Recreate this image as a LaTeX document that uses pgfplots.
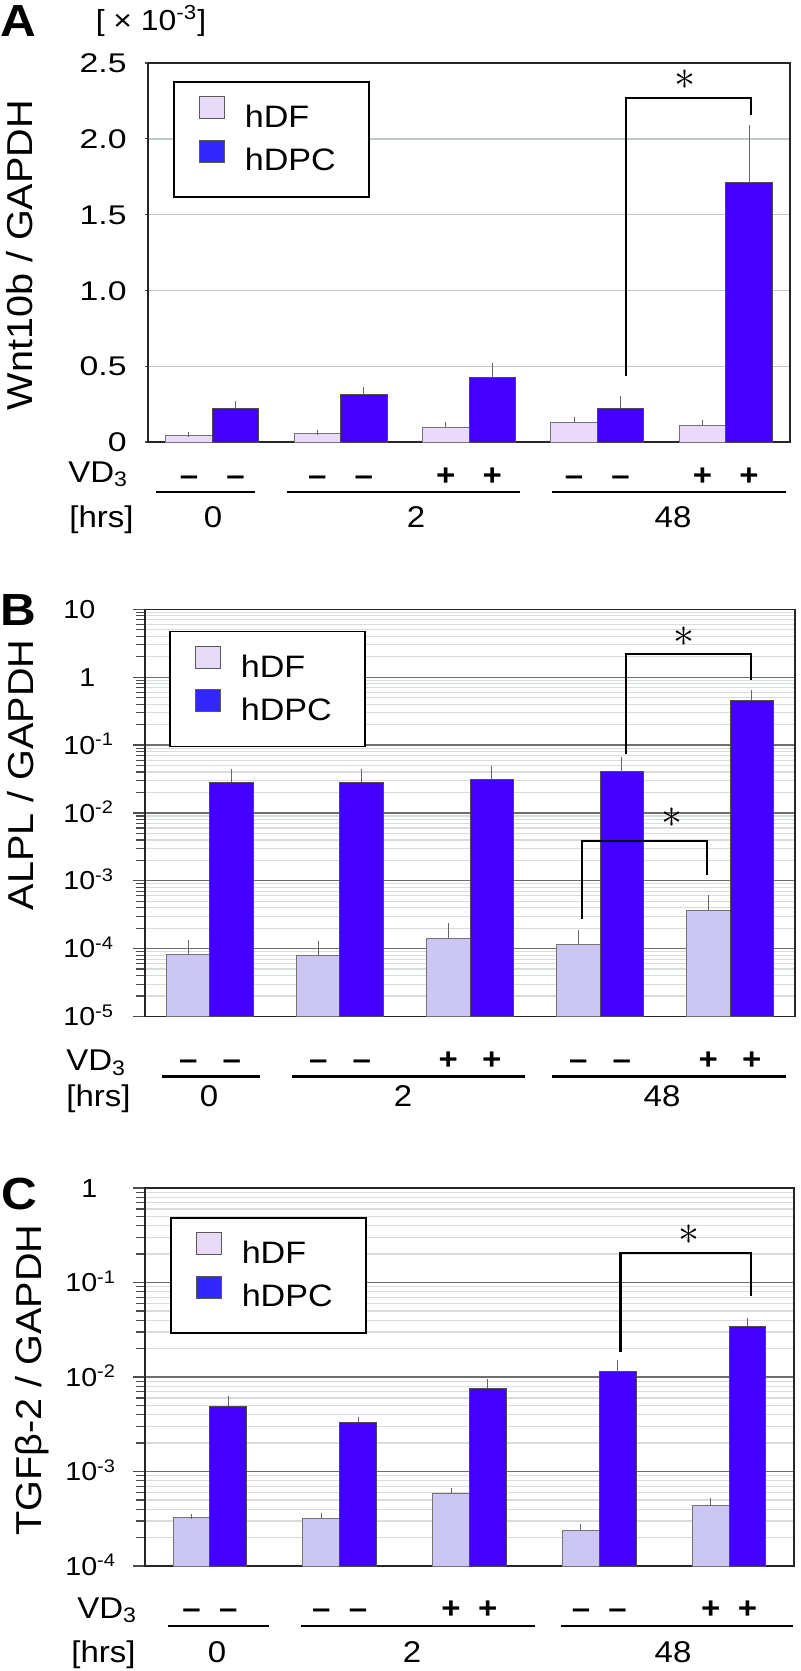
\documentclass[border=0pt]{standalone}
\usepackage{fontspec}
\setmainfont[FakeStretch=1.1]{Liberation Sans}
\newfontfamily\wideA[FakeStretch=1.25]{Liberation Sans}
\usepackage{graphicx}
\usepackage{pgfplots}
\usepackage{pgfplotstable}
\pgfplotsset{compat=1.18}

\definecolor{dfA}{RGB}{232,218,248}
\definecolor{dfB}{RGB}{204,198,242}
\definecolor{dpc}{RGB}{68,0,255}
\definecolor{legdf}{RGB}{230,218,246}
\definecolor{legdpc}{RGB}{50,40,255}
\definecolor{gridA}{RGB}{190,202,198}
\definecolor{gridmaj}{RGB}{110,110,110}
\definecolor{gridmin}{RGB}{215,220,220}

\newcommand\fs[1]{\fontsize{#1}{#1}\selectfont}
\newcommand\tl[1]{10\textsuperscript{#1}}
% sign / number below the bars: x, ymin, shift, text
\newcommand\sgn[4]{\node[sg] at ([yshift=-#3]axis cs:#1,#2) {#4};}
\newcommand\mi{\textbf{\textendash}}
\newcommand\pl{\textbf{+}}
% underline: x1, x2, ymin, shift
\newcommand\ul[4]{\draw[line width=1.4pt] ([yshift=-#4]axis cs:#1,#3) -- ([yshift=-#4]axis cs:#2,#3);}
\newcommand\sigstar[2]{\node at (axis cs:#1,#2) {\scalebox{2.1}{$\ast$}};}

\tikzset{sg/.style={anchor=base, font=\fs{15}, inner sep=0pt}}

\pgfplotsset{
  panel/.style={
    scale only axis, clip=false, ybar=0pt, log origin y=infty,
    xmin=-0.5, xmax=4.5, xtick=\empty,
    axis line style={black!85, line width=0.8pt},
    tick style={black!70, line width=0.6pt}, tick align=outside, ytick pos=left,
    ylabel style={font=\fs{18}, anchor=center},
    legend cell align=left,
    legend style={draw=black, line width=0.8pt, fill=white, font=\fs{15.5},
      inner xsep=12.5pt, inner ysep=7pt, row sep=0pt, column sep=10pt,
      nodes={inner sep=0pt, minimum height=21.75pt}},
    error bars/y dir=plus, error bars/y explicit,
    error bars/error bar style={line width=0.5pt, black!60},
    error bars/error mark options={black!60, line width=0.5pt, mark size=1.3pt},
  },
  legdf/.style={legend image code/.code={
      \draw[fill=legdf, draw=black!65, line width=0.5pt] (0pt,-0.5pt) rectangle (12.5pt,10.5pt);}},
  legdpc/.style={legend image code/.code={
      \draw[fill=legdpc, draw=black!65, line width=0.5pt] (0pt,-0.5pt) rectangle (12.5pt,10.5pt);}},
}

% Wnt10b / GAPDH (x10^-3)
\pgfplotstableread{
x y e
0 0.042 0.008
1 0.057 0.007
2 0.099 0.015
3 0.127 0.023
4 0.108 0.019
}\Adf
\pgfplotstableread{
x y e
0 0.222 0.033
1 0.312 0.035
2 0.424 0.079
3 0.222 0.062
4 1.71 0.363
}\Adpc
% ALPL / GAPDH
\pgfplotstableread{
x y e
0 8.1e-5 4.2e-5
1 7.8e-5 4.1e-5
2 1.43e-4 7.4e-5
3 1.16e-4 5.9e-5
4 3.7e-4 1.96e-4
}\Bdf
\pgfplotstableread{
x y e
0 0.0283 0.0123
1 0.0283 0.0123
2 0.0313 0.0142
3 0.041 0.0208
4 0.461 0.137
}\Bdpc
% TGFb-2 / GAPDH
\pgfplotstableread{
x y e
0 3.30e-4 0.05e-4
1 3.22e-4 1.9e-5
2 5.87e-4 4.5e-5
3 2.37e-4 2.2e-5
4 4.35e-4 5.2e-5
}\Cdf
\pgfplotstableread{
x y e
0 4.9e-3 1.0e-3
1 3.34e-3 1.9e-4
2 7.65e-3 1.35e-3
3 1.14e-2 2.8e-3
4 3.44e-2 5.4e-3
}\Cdpc

\begin{document}
\begin{tikzpicture}
\path[use as bounding box] (0pt,0pt) rectangle (400pt,-835.5pt);

% ---------------- A ----------------
\node[font=\fs{22.5}\bfseries] at (9pt,-10.5pt) {A};
\node[font=\fs{14.5}] at (75.5pt,-10.5pt) {[ × \tl{-3}]};
\begin{axis}[panel, at={(74pt,-221pt)}, anchor=south west, width=321pt, height=189.5pt,
  ymin=0, ymax=2.5, ytick={0,0.5,1,1.5,2,2.5}, yticklabels={0,0.5,1.0,1.5,2.0,2.5},
  ymajorgrids, major grid style={gridA, line width=0.7pt}, major tick length=1.5pt,
  yticklabel style={font=\wideA\fs{13.5}, anchor=base east, inner sep=0pt, yshift=-4.8pt, xshift=-9pt},
  ylabel={Wnt10b / GAPDH}, ylabel style={at={(axis description cs:-0.2,0.493)}},
  bar width=0.362,
  legend style={at={(rel axis cs:0.039,0.9525)}, anchor=north west}]
\addplot[fill=dfA, draw=black!55, line width=0.5pt, legdf] table[x=x,y=y,y error=e] {\Adf};
\addplot[fill=dpc, draw=black!70, line width=0.5pt, legdpc] table[x=x,y=y,y error=e] {\Adpc};
\legend{hDF, hDPC\hspace*{4pt}}
\draw[line width=1.15pt] (axis cs:3.223,0.435) -- (axis cs:3.223,2.27) -- (axis cs:4.196,2.27) -- (axis cs:4.196,2.157);
\sigstar{3.68}{2.39}
\node[sg, anchor=base west] at ([yshift=-20pt]axis cs:-1.123,0) {VD\textsubscript{3}};
\node[sg, anchor=base west] at ([yshift=-42.5pt]axis cs:-1.115,0) {[hrs]};
\sgn{-0.181}{0}{21.5pt}{\mi}\sgn{0.181}{0}{21.5pt}{\mi}
\sgn{0.819}{0}{21.5pt}{\mi}\sgn{1.181}{0}{21.5pt}{\mi}
\sgn{1.819}{0}{21.5pt}{\pl}\sgn{2.181}{0}{21.5pt}{\pl}
\sgn{2.819}{0}{21.5pt}{\mi}\sgn{3.181}{0}{21.5pt}{\mi}
\sgn{3.819}{0}{21.5pt}{\pl}\sgn{4.181}{0}{21.5pt}{\pl}
\ul{-0.438}{0.333}{0}{25pt}\ul{0.583}{2.397}{0}{25pt}\ul{2.646}{4.469}{0}{25pt}
\sgn{0.006}{0}{42.5pt}{0}\sgn{1.587}{0}{42.5pt}{2}\sgn{3.589}{0}{42.5pt}{48}
\end{axis}

% ---------------- B ----------------
\node[font=\fs{22.5}\bfseries] at (9pt,-305pt) {B};
\begin{axis}[panel, at={(72.5pt,-508.25pt)}, anchor=south west, width=325pt, height=203.6pt,
  ymode=log, ymin=1e-5, ymax=10, ytick={1e-5,1e-4,1e-3,1e-2,1e-1,1,10},
  yticklabels={\tl{-5},\tl{-4},\tl{-3},\tl{-2},\tl{-1},\hphantom{1}1,10},
  ymajorgrids, yminorgrids, major grid style={gridmaj, line width=0.6pt},
  minor grid style={gridmin, line width=0.6pt},
  major tick length=6pt, minor tick length=4.5pt,
  yticklabel style={font=\fs{13}, anchor=base west, inner sep=0pt, yshift=-4.6pt, xshift=-35pt},
  ylabel={ALPL / GAPDH}, ylabel style={at={(axis description cs:-0.192,0.593)}},
  bar width=0.335,
  legend style={at={(rel axis cs:0.037,0.947)}, anchor=north west}]
\addplot[fill=dfB, draw=black!55, line width=0.5pt, legdf] table[x=x,y=y,y error=e] {\Bdf};
\addplot[fill=dpc, draw=black!70, line width=0.5pt, legdpc] table[x=x,y=y,y error=e] {\Bdpc};
\legend{hDF, hDPC\hspace*{4pt}}
\draw[line width=1.15pt] (axis cs:3.198,0.073) -- (axis cs:3.198,2.17) -- (axis cs:4.16,2.17) -- (axis cs:4.16,0.91);
\sigstar{3.646}{3.9}
\draw[line width=1.15pt] (axis cs:2.86,2.75e-4) -- (axis cs:2.86,3.87e-3) -- (axis cs:3.825,3.87e-3) -- (axis cs:3.825,1.22e-3);
\sigstar{3.55}{8.4e-3}
\node[sg, anchor=base west] at ([yshift=-27pt]axis cs:-1.108,1e-5) {VD\textsubscript{3}};
\node[sg, anchor=base west] at ([yshift=-45pt]axis cs:-1.108,1e-5) {[hrs]};
\sgn{-0.1675}{1e-5}{26.5pt}{\mi}\sgn{0.1675}{1e-5}{26.5pt}{\mi}
\sgn{0.8325}{1e-5}{26.5pt}{\mi}\sgn{1.1675}{1e-5}{26.5pt}{\mi}
\sgn{1.8325}{1e-5}{26.5pt}{\pl}\sgn{2.1675}{1e-5}{26.5pt}{\pl}
\sgn{2.8325}{1e-5}{26.5pt}{\mi}\sgn{3.1675}{1e-5}{26.5pt}{\mi}
\sgn{3.8325}{1e-5}{26.5pt}{\pl}\sgn{4.1675}{1e-5}{26.5pt}{\pl}
\ul{-0.369}{0.385}{1e-5}{30pt}\ul{0.631}{2.423}{1e-5}{30pt}\ul{2.631}{4.431}{1e-5}{30pt}
\sgn{-0.008}{1e-5}{45pt}{0}\sgn{1.485}{1e-5}{45pt}{2}\sgn{3.477}{1e-5}{45pt}{48}
\end{axis}

% ---------------- C ----------------
\node[font=\fs{22.5}\bfseries] at (9.5pt,-597pt) {C};
\begin{axis}[panel, at={(72.5pt,-783pt)}, anchor=south west, width=324.5pt, height=189pt,
  ymode=log, ymin=1e-4, ymax=1, ytick={1e-4,1e-3,1e-2,1e-1,1},
  yticklabels={\tl{-4},\tl{-3},\tl{-2},\tl{-1},\hphantom{1}1},
  ymajorgrids, yminorgrids, major grid style={gridmaj, line width=0.6pt},
  minor grid style={gridmin, line width=0.6pt},
  major tick length=6pt, minor tick length=4.5pt,
  yticklabel style={font=\fs{13}, anchor=base west, inner sep=0pt, yshift=-4.6pt, xshift=-34pt},
  ylabel={TGFβ-2 / GAPDH}, ylabel style={at={(axis description cs:-0.174,0.492)}},
  bar width=0.283,
  legend style={at={(rel axis cs:0.0385,0.923)}, anchor=north west}]
\addplot[fill=dfB, draw=black!55, line width=0.5pt, legdf] table[x=x,y=y,y error=e] {\Cdf};
\addplot[fill=dpc, draw=black!70, line width=0.5pt, legdpc] table[x=x,y=y,y error=e] {\Cdpc};
\legend{hDF, hDPC\hspace*{4pt}}
\draw[line width=1.15pt] (axis cs:3.163,1.82e-2) -- (axis cs:3.163,0.207) -- (axis cs:4.169,0.207) -- (axis cs:4.169,0.072);
\sigstar{3.691}{0.318}
\node[sg, anchor=base west] at ([yshift=-26pt]axis cs:-1.024,1e-4) {VD\textsubscript{3}};
\node[sg, anchor=base west] at ([yshift=-48.3pt]axis cs:-1.07,1e-4) {[hrs]};
\sgn{-0.1415}{1e-4}{26pt}{\mi}\sgn{0.1415}{1e-4}{26pt}{\mi}
\sgn{0.8585}{1e-4}{26pt}{\mi}\sgn{1.1415}{1e-4}{26pt}{\mi}
\sgn{1.8585}{1e-4}{26pt}{\pl}\sgn{2.1415}{1e-4}{26pt}{\pl}
\sgn{2.8585}{1e-4}{26pt}{\mi}\sgn{3.1415}{1e-4}{26pt}{\mi}
\sgn{3.8585}{1e-4}{26pt}{\pl}\sgn{4.1415}{1e-4}{26pt}{\pl}
\ul{-0.323}{0.455}{1e-4}{30pt}\ul{0.702}{2.505}{1e-4}{30pt}\ul{2.705}{4.492}{1e-4}{30pt}
\sgn{0.055}{1e-4}{48.3pt}{0}\sgn{1.557}{1e-4}{48.3pt}{2}\sgn{3.568}{1e-4}{48.3pt}{48}
\end{axis}
\end{tikzpicture}
\end{document}
